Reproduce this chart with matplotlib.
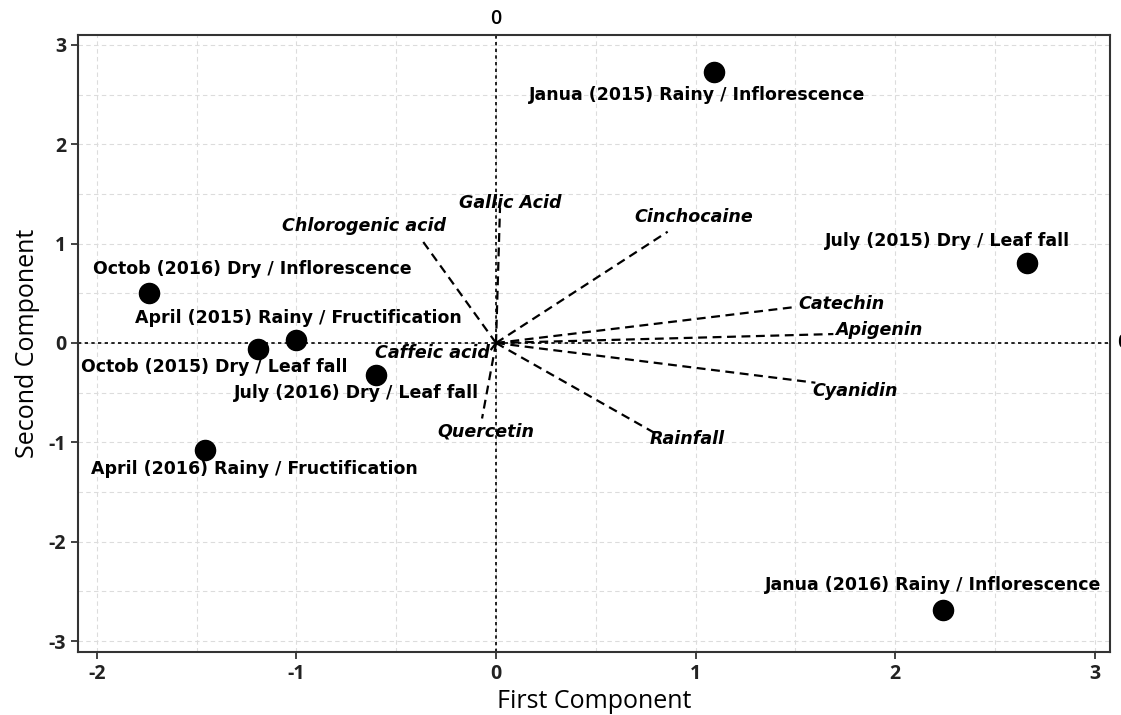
import matplotlib
matplotlib.use("Agg")
import matplotlib.pyplot as plt
from matplotlib.ticker import MultipleLocator

plt.rcParams["axes.unicode_minus"] = False

# Sample scores
sample_labels = [
    "Janua (2015) Rainy / Inflorescence",
    "July (2015) Dry / Leaf fall",
    "Octob (2016) Dry / Inflorescence",
    "April (2015) Rainy / Fructification",
    "Octob (2015) Dry / Leaf fall",
    "July (2016) Dry / Leaf fall",
    "April (2016) Rainy / Fructification",
    "Janua (2016) Rainy / Inflorescence",
]
sample_x = [1.09, 2.66, -1.74, -1.00, -1.19, -0.60, -1.46, 2.24]
sample_y = [2.73, 0.81, 0.50, 0.03, -0.06, -0.32, -1.08, -2.69]
# label positions (data units)
sample_lx = [1.01, 2.26, -1.22, -0.99, -1.41, -0.70, -1.21, 2.19]
sample_ly = [2.50, 1.03, 0.74, 0.25, -0.24, -0.50, -1.27, -2.44]

# Variable loadings
var_labels = ["Chlorogenic acid", "Gallic Acid", "Cinchocaine", "Catechin",
              "Apigenin", "Cyanidin", "Rainfall", "Quercetin", "Caffeic acid"]
var_x = [-0.38, 0.02, 0.86, 1.49, 1.69, 1.60, 0.79, -0.07, -0.03]
var_y = [1.06, 1.36, 1.12, 0.36, 0.09, -0.40, -0.90, -0.76, -0.08]
var_lx = [-0.66, 0.07, 0.99, 1.73, 1.92, 1.80, 0.96, -0.05, -0.32]
var_ly = [1.18, 1.41, 1.27, 0.39, 0.13, -0.48, -0.97, -0.89, -0.10]

fig = plt.figure(figsize=(11.21, 7.15), dpi=100)
ax = fig.add_axes([0.0696, 0.0881, 0.9206, 0.8630])
ax.set_xlim(-2.094, 3.076)
ax.set_ylim(-3.11, 3.10)

ax.xaxis.set_major_locator(MultipleLocator(1))
ax.yaxis.set_major_locator(MultipleLocator(1))
ax.xaxis.set_minor_locator(MultipleLocator(0.5))
ax.yaxis.set_minor_locator(MultipleLocator(0.5))
ax.grid(True, which="both", color="#dcdcdc", linestyle=(0, (4, 3)), linewidth=0.8)
ax.set_axisbelow(True)
ax.tick_params(which="minor", length=0)
ax.tick_params(which="major", direction="out", length=5, width=1.2, colors="#222222",
               labelsize=14)
for lab in ax.get_xticklabels() + ax.get_yticklabels():
    lab.set_fontfamily("Open Sans")
    lab.set_fontweight("bold")
for s in ax.spines.values():
    s.set_linewidth(1.5)
    s.set_color("#333333")

ax.axhline(0, color="black", linestyle=(0, (2, 2)), linewidth=1.2, zorder=2)
ax.axvline(0, color="black", linestyle=(0, (2, 2)), linewidth=1.2, zorder=2)

for x, y, lx, ly, t in zip(var_x, var_y, var_lx, var_ly, var_labels):
    ax.plot([0, x], [0, y], color="black", linestyle=(0, (4, 2.5)), linewidth=1.6, zorder=3)
    ax.text(lx, ly, t, ha="center", va="center", fontsize=12.6, fontweight="bold",
            fontstyle="italic", color="black", zorder=4)

ax.scatter(sample_x, sample_y, s=210, color="black", zorder=5)
for lx, ly, t in zip(sample_lx, sample_ly, sample_labels):
    ax.text(lx, ly, t, ha="center", va="center", fontsize=12.5, fontweight="bold",
            color="black", zorder=6)

ax.set_xlabel("First Component", fontsize=18, fontfamily="Open Sans", labelpad=4)
ax.set_ylabel("Second Component", fontsize=18, fontfamily="Open Sans", labelpad=6)

ax.text(0, 1.01, "0", transform=ax.get_xaxis_transform(), ha="center", va="bottom",
        fontsize=14, fontfamily="Open Sans", fontweight="semibold")
ax.text(1.007, 0, "0", transform=ax.get_yaxis_transform(), ha="left", va="center",
        fontsize=14, fontfamily="Open Sans", fontweight="semibold", clip_on=False)

fig.savefig("out.png", dpi=100)
